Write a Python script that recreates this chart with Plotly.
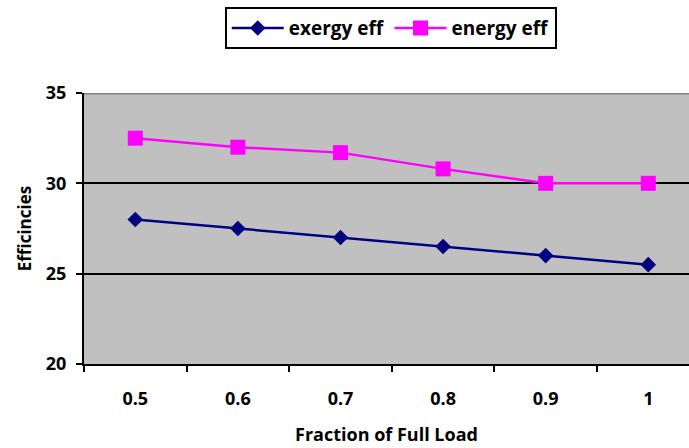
import plotly.graph_objects as go

categories = ["0.5", "0.6", "0.7", "0.8", "0.9", "1"]
exergy_eff = [28, 27.5, 27, 26.5, 26, 25.5]
energy_eff = [32.5, 32, 31.7, 30.8, 30, 30]
y_ticks = [20, 25, 30, 35]

FONT = "Open Sans"

fig = go.Figure()
fig.add_trace(go.Scatter(
    x=categories, y=exergy_eff, name="exergy eff", mode="lines+markers",
    line=dict(color="#000080", width=2.5),
    marker=dict(symbol="diamond", size=12, color="#000080"),
))
fig.add_trace(go.Scatter(
    x=categories, y=energy_eff, name="energy eff", mode="lines+markers",
    line=dict(color="#FF00FF", width=2.5),
    marker=dict(symbol="square", size=15, color="#FF00FF"),
))

fig.update_layout(
    width=689, height=448,
    margin=dict(l=84, r=0, t=93, b=84),
    paper_bgcolor="white",
    plot_bgcolor="#C0C0C0",
    font=dict(family=FONT, color="black", size=15),
    showlegend=True,
    legend=dict(
        orientation="h", x=0.507, xanchor="center", y=1.317, yanchor="top",
        bordercolor="black", borderwidth=2, bgcolor="white",
        itemwidth=52,
        font=dict(family=FONT, size=19, color="black", weight="bold"),
    ),
    xaxis=dict(
        type="category", range=[-0.5, 5.397], tickson="boundaries",
        ticks="outside", ticklen=6, tickwidth=2, tickcolor="black",
        showline=True, linecolor="black", linewidth=2,
        showgrid=False, zeroline=False,
        ticklabelstandoff=17,
        tickfont=dict(family=FONT, size=18, weight="bold"),
        title=dict(text="Fraction of Full Load", standoff=20,
                   font=dict(family=FONT, size=18, weight="bold")),
    ),
    yaxis=dict(
        range=[20, 35], tickvals=y_ticks,
        ticks="outside", ticklen=6, tickwidth=2, tickcolor="black",
        showline=True, linecolor="black", linewidth=2,
        showgrid=True, gridcolor="black", gridwidth=2, zeroline=False,
        ticklabelstandoff=6,
        tickfont=dict(family=FONT, size=18, weight="bold"),
        title=dict(text="Efficincies", standoff=10,
                   font=dict(family=FONT, size=17, weight="bold")),
    ),
)
fig.add_shape(type="line", xref="paper", yref="y", x0=0, x1=1, y0=35, y1=35,
              line=dict(color="#808080", width=3), layer="above")

fig.write_html("out.html")
